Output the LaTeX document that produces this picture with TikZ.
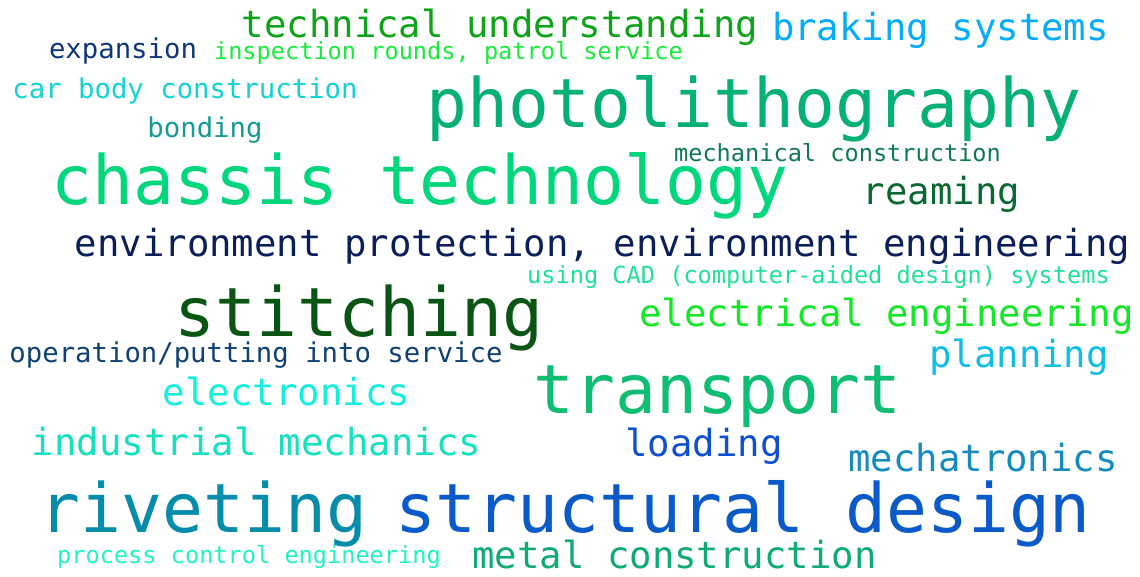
\documentclass[tikz,border=0pt]{standalone}
\usepackage{fontspec}
\newfontfamily\cloudfont{DejaVu Sans Mono}

\definecolor{cTech}{RGB}{14,164,26}
\definecolor{cBraking}{RGB}{5,172,250}
\definecolor{cExpansion}{RGB}{15,55,120}
\definecolor{cInspection}{RGB}{25,235,60}
\definecolor{cCarbody}{RGB}{20,210,210}
\definecolor{cBonding}{RGB}{20,155,150}
\definecolor{cPhoto}{RGB}{5,175,120}
\definecolor{cMechcon}{RGB}{15,120,90}
\definecolor{cChassis}{RGB}{0,215,125}
\definecolor{cReaming}{RGB}{10,105,50}
\definecolor{cEnv}{RGB}{10,30,90}
\definecolor{cCad}{RGB}{30,225,150}
\definecolor{cStitching}{RGB}{10,85,20}
\definecolor{cElectrical}{RGB}{20,230,40}
\definecolor{cOperation}{RGB}{15,65,115}
\definecolor{cPlanning}{RGB}{15,190,230}
\definecolor{cTransport}{RGB}{15,190,115}
\definecolor{cElectronics}{RGB}{20,240,220}
\definecolor{cIndmech}{RGB}{20,225,190}
\definecolor{cLoading}{RGB}{15,80,210}
\definecolor{cMechatronics}{RGB}{20,140,190}
\definecolor{cRiveting}{RGB}{5,140,170}
\definecolor{cStructural}{RGB}{10,90,200}
\definecolor{cProcess}{RGB}{30,245,195}
\definecolor{cMetal}{RGB}{15,170,120}

\begin{document}
\begin{tikzpicture}[x=1pt, y=-1pt,
    word/.style={inner sep=0pt, anchor=base},
    huge/.style={word, font=\cloudfont\fontsize{68}{68}\selectfont},
    large/.style={word, font=\cloudfont\fontsize{37.3}{37.3}\selectfont},
    medium/.style={word, font=\cloudfont\fontsize{27.3}{27.3}\selectfont},
    tiny/.style={word, font=\cloudfont\fontsize{23.6}{23.6}\selectfont}]
    % Canvas
    \useasboundingbox[fill=white] (0,0) rectangle (1140,576);

    % Biggest words
    \node[huge, cPhoto] (photo) at (754,127) {photolithography};
    \node[huge, cChassis] (chassis) at (420,204) {chassis technology};
    \node[huge, cStitching] (stitching) at (359,336) {stitching};
    \node[huge, cTransport] (transport) at (717.5,413) {transport};
    \node[huge, cRiveting] (riveting) at (203.5,532) {riveting};
    \node[huge, cStructural] (structural) at (743,532) {structural design};

    % Large words
    \node[large, cTech] (tech) at (500,37) {technical understanding};
    \node[large, cBraking] (braking) at (940.5,40) {braking systems};
    \node[large, cReaming] (reaming) at (941.5,204) {reaming};
    \node[large, cEnv] (envprot) at (602.5,256) {environment protection, environment engineering};
    \node[large, cElectrical] (electrical) at (886.5,326) {electrical engineering};
    \node[large, cPlanning] (planning) at (1019,367) {planning};
    \node[large, cElectronics] (electronics) at (286.5,405) {electronics};
    \node[large, cIndmech] (indmech) at (256.5,455) {industrial mechanics};
    \node[large, cLoading] (loading) at (704,456) {loading};
    \node[large, cMechatronics] (mechatronics) at (983,471) {mechatronics};
    \node[large, cMetal] (metalcon) at (674.5,568) {metal construction};

    % Medium words
    \node[medium, cExpansion] (expansion) at (123,58) {expansion};
    \node[medium, cCarbody] (carbody) at (185,98) {car body construction};
    \node[medium, cBonding] (bonding) at (205,137) {bonding};
    \node[medium, cOperation] (operation) at (256,362) {operation/putting into service};

    % Smallest words
    \node[tiny, cInspection] (inspection) at (448.5,59) {inspection rounds, patrol service};
    \node[tiny, cMechcon] (mechcon) at (837.5,161) {mechanical construction};
    \node[tiny, cCad] (cad) at (818.5,283) {using CAD (computer-aided design) systems};
    \node[tiny, cProcess] (process) at (249,563) {process control engineering};
\end{tikzpicture}
\end{document}
